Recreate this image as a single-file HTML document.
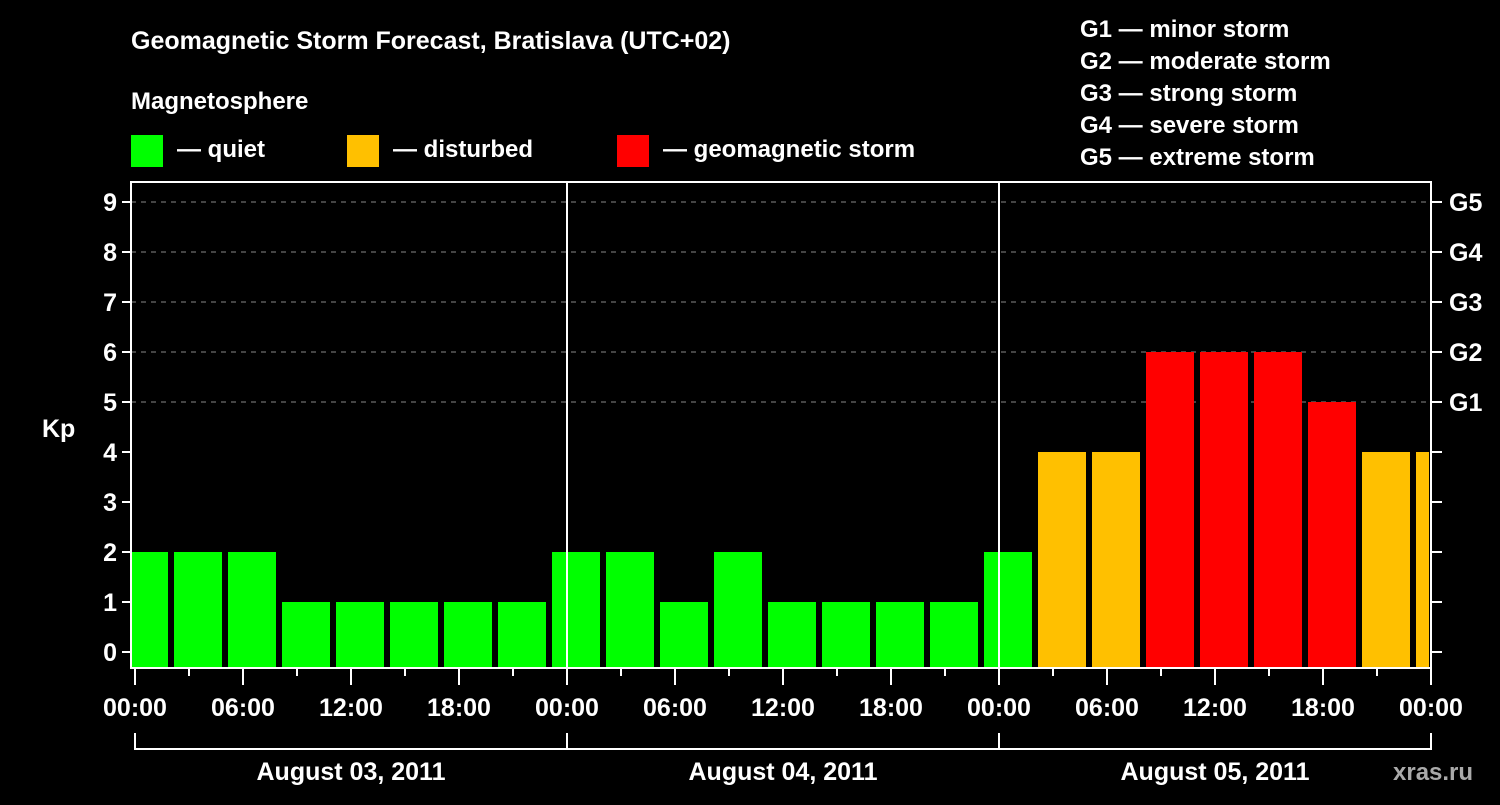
<!DOCTYPE html>
<html><head><meta charset="utf-8"><style>
body{margin:0;background:#000;}
svg text{font-family:"Liberation Sans",Arial,sans-serif;font-weight:bold;fill:#fff;}
</style></head><body>
<svg id="chart" width="1500" height="800" xmlns="http://www.w3.org/2000/svg">
<rect width="1500" height="800" fill="#000"/>
<text x="131" y="49" font-size="25">Geomagnetic Storm Forecast, Bratislava (UTC+02)</text>
<text x="131" y="109" font-size="24">Magnetosphere</text>
<g>
<rect x="131" y="135" width="32" height="32" fill="#00ff00"/>
<text x="177" y="157" font-size="24">— quiet</text>
<rect x="347" y="135" width="32" height="32" fill="#ffc000"/>
<text x="393" y="157" font-size="24">— disturbed</text>
<rect x="617" y="135" width="32" height="32" fill="#ff0000"/>
<text x="663" y="157" font-size="24">— geomagnetic storm</text>
</g>
<g font-size="24">
<text x="1080" y="37">G1 — minor storm</text>
<text x="1080" y="69">G2 — moderate storm</text>
<text x="1080" y="101">G3 — strong storm</text>
<text x="1080" y="133">G4 — severe storm</text>
<text x="1080" y="165">G5 — extreme storm</text>
</g>
<text x="42" y="437" font-size="25">Kp</text>
<text x="1393" y="780" font-size="24" style="fill:#aaa">xras.ru</text>
<g id="grid"></g><g id="bars"></g><g id="axes"></g>
</svg>
<script>
const kpValues = [2,2,2,1,1,1,1,1, 2,2,1,2,1,1,1,1, 2,4,4,6,6,6,5,4,4];
const yTicks = [0,1,2,3,4,5,6,7,8,9];
const gLabels = ["G1","G2","G3","G4","G5"];
const gLevels = [5,6,7,8,9];
const xTickLabels = ["00:00","06:00","12:00","18:00","00:00","06:00","12:00","18:00","00:00","06:00","12:00","18:00","00:00"];
const dayLabels = ["August 03, 2011","August 04, 2011","August 05, 2011"];

const NS="http://www.w3.org/2000/svg";
const L=131,R=1431,T=182,B=668,X0=135;
const y=v=>652-50*v;
const x=h=>X0+18*h;
function mk(tag,attrs,parent){const e=document.createElementNS(NS,tag);for(const k in attrs)e.setAttribute(k,attrs[k]);parent.appendChild(e);return e;}
const grid=document.getElementById('grid'),bars=document.getElementById('bars'),axes=document.getElementById('axes');
const svg=document.getElementById('chart');
// clip
const defs=mk('defs',{},svg);const cp=mk('clipPath',{id:'pc'},defs);mk('rect',{x:L+1,y:T,width:R-L-3,height:B-T},cp);
bars.setAttribute('clip-path','url(#pc)');
yTicks.forEach(v=>{
  if(v>=5){const g=mk('line',{x1:L,x2:R,y1:y(v),y2:y(v),stroke:'#888','stroke-width':1,'stroke-dasharray':'5,5'},grid);
  }
  const t=mk('line',{x1:L-9,x2:L,y1:y(v),y2:y(v),stroke:'#fff','stroke-width':2},axes);
  const t2=mk('line',{x1:R,x2:R+11,y1:y(v),y2:y(v),stroke:'#fff','stroke-width':2},axes);
  const lb=mk('text',{x:L-14,y:y(v)+9,'font-size':25,'text-anchor':'end'},axes);lb.textContent=v;
  
  
});
gLevels.forEach((v,i)=>{const lb=mk('text',{x:R+18,y:y(v)+9,'font-size':25},axes);lb.textContent=gLabels[i];
  
  });
kpValues.forEach((v,i)=>{
  const c=x(0.5+3*i);
  const col=v>=5?'#ff0000':(v>=4?'#ffc000':'#00ff00');
  const r=mk('rect',{x:c-24,y:y(v),width:48,height:B-y(v),fill:col},bars);
  
  
});
// day separators
[1,2].forEach(d=>mk('line',{x1:x(24*d),x2:x(24*d),y1:T,y2:B,stroke:'#fff','stroke-width':2},axes));
// frame
const fr=mk('rect',{x:L,y:T,width:R-L,height:B-T,fill:'none',stroke:'#fff','stroke-width':2},axes);


for(let h=0;h<=72;h+=3){const big=h%6==0;mk('line',{x1:x(h),x2:x(h),y1:B,y2:B+(big?17:8),stroke:'#fff','stroke-width':2},axes);}
xTickLabels.forEach((s,i)=>{const lb=mk('text',{x:x(6*i),y:716,'font-size':25,'text-anchor':'middle'},axes);lb.textContent=s;
  
  });
dayLabels.forEach((s,i)=>{
  mk('path',{d:`M${x(24*i)} 733V749H${x(24*(i+1))}V733`,fill:'none',stroke:'#fff','stroke-width':2},axes);
  const lb=mk('text',{x:x(24*i+12),y:780,'font-size':25,'text-anchor':'middle'},axes);lb.textContent=s;
  
  
});
</script>
</body></html>
